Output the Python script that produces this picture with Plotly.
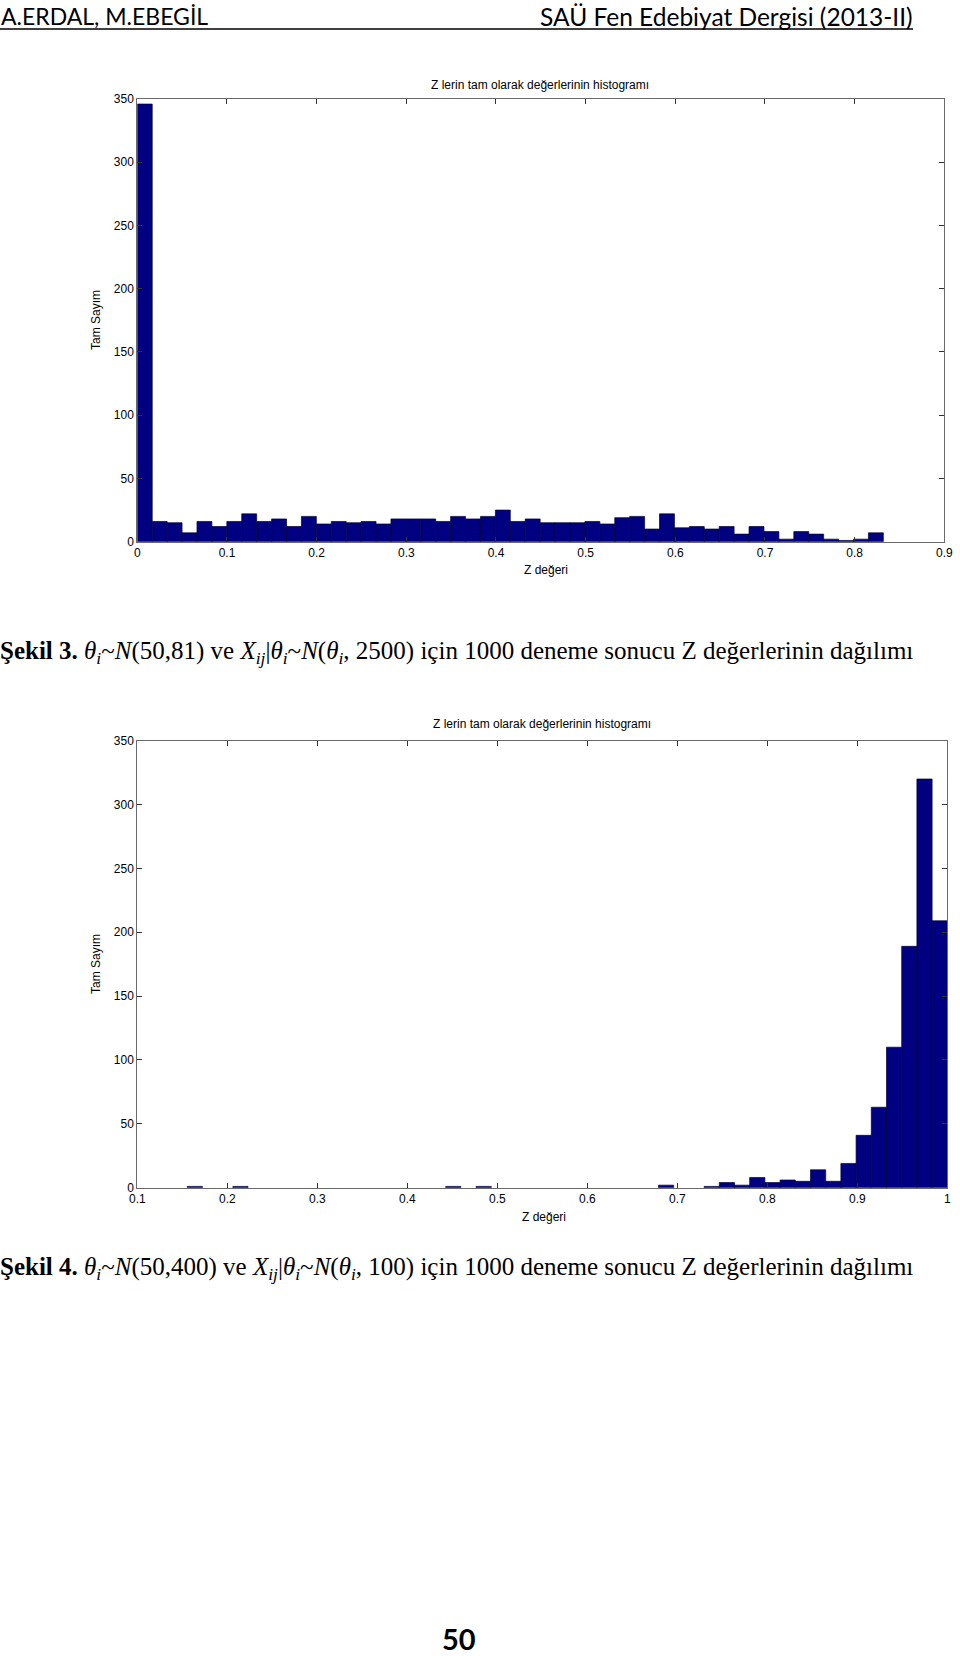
import plotly.graph_objects as go

W, H = 960, 1656

# ---------------- data ----------------
# Şekil 3 histogram (50 bins between min and max Z)
fig3_bin_lo = 0.0
fig3_bin_hi = 0.832
fig3_counts = [346, 16, 15, 7, 16, 12, 16, 22, 16, 18, 12, 20, 14, 16, 15, 16, 14, 18, 18, 18,
               16, 20, 18, 20, 25, 16, 18, 15, 15, 15, 16, 14, 19, 20, 10, 22, 11, 12, 10, 12,
               6, 12, 8, 2, 8, 6, 2, 1, 2, 7]
fig3_xticks = [0, 0.1, 0.2, 0.3, 0.4, 0.5, 0.6, 0.7, 0.8, 0.9]

# Şekil 4 histogram (50 bins between min and max Z)
fig4_bin_lo = 0.1555
fig4_bin_hi = 1.0
fig4_counts = [1, 0, 0, 1, 0, 0, 0, 0, 0, 0,
               0, 0, 0, 0, 0, 0, 0, 1, 0, 1,
               0, 0, 0, 0, 0, 0, 0, 0, 0, 0,
               0, 2, 0, 0, 1, 4, 2, 8, 4, 6,
               5, 14, 5, 19, 41, 63, 110, 189, 320, 209]
fig4_xticks = [0.1, 0.2, 0.3, 0.4, 0.5, 0.6, 0.7, 0.8, 0.9, 1]

yticks = [0, 50, 100, 150, 200, 250, 300, 350]

chart_title = "Z lerin tam olarak değerlerinin histogramı"
x_title = "Z değeri"
y_title = "Tam Sayım"
header_left = "A.ERDAL, M.EBEGİL"
header_right = "SAÜ Fen Edebiyat Dergisi (2013-II)"
caption3 = ("<b>Şekil 3.</b> <i>θ</i><sub><i>i</i></sub>~<i>N</i>(50,81) ve "
            "<i>X</i><sub><i>ij</i></sub>|<i>θ</i><sub><i>i</i></sub>~<i>N</i>(<i>θ</i><sub><i>i</i></sub>, 2500) "
            "için 1000 deneme sonucu Z değerlerinin dağılımı")
caption4 = ("<b>Şekil 4.</b> <i>θ</i><sub><i>i</i></sub>~<i>N</i>(50,400) ve "
            "<i>X</i><sub><i>ij</i></sub>|<i>θ</i><sub><i>i</i></sub>~<i>N</i>(<i>θ</i><sub><i>i</i></sub>, 100) "
            "için 1000 deneme sonucu Z değerlerinin dağılımı")
page_no = "50"


def bins(lo, hi, counts):
    n = len(counts)
    w = (hi - lo) / n
    xs = [lo + (i + 0.5) * w for i in range(n)]
    ys = [c if c else None for c in counts]
    return xs, ys, w


def px(x):
    return x / W


def py(y):
    return 1 - y / H


BAR_COLOR = "#000080"
EDGE = "#00003c"

fig = go.Figure()
x3, y3, w3 = bins(fig3_bin_lo, fig3_bin_hi, fig3_counts)
x4, y4, w4 = bins(fig4_bin_lo, fig4_bin_hi, fig4_counts)
fig.add_trace(go.Bar(x=x3, y=y3, width=w3, xaxis="x", yaxis="y",
                     marker=dict(color=BAR_COLOR, line=dict(color=EDGE, width=0.7)),
                     showlegend=False))
fig.add_trace(go.Bar(x=x4, y=y4, width=w4, xaxis="x2", yaxis="y2",
                     marker=dict(color=BAR_COLOR, line=dict(color=EDGE, width=0.7)),
                     showlegend=False))

tickfont = dict(family="Liberation Sans, Arial, sans-serif", size=12, color="#000")
axis_common = dict(ticks="inside", ticklen=5, tickwidth=1, tickcolor="#333",
                   showline=True, linecolor="#6a6a6a", linewidth=1, mirror="allticks",
                   showgrid=False, zeroline=False, tickfont=tickfont, fixedrange=True,
                   automargin=False)

fig.update_layout(
    template="none",
    width=W, height=H, autosize=False,
    margin=dict(l=0, r=0, t=0, b=0, pad=0, autoexpand=False),
    paper_bgcolor="white", plot_bgcolor="white",
    bargap=0,
    xaxis=dict(domain=[px(137.3), px(944.3)], range=[0, 0.9], tickvals=fig3_xticks,
               anchor="y", **axis_common),
    yaxis=dict(domain=[py(541.7), py(99)], range=[0, 350], tickvals=yticks,
               anchor="x", **axis_common),
    xaxis2=dict(domain=[px(137.3), px(947.3)], range=[0.1, 1.0], tickvals=fig4_xticks,
                anchor="y2", **axis_common),
    yaxis2=dict(domain=[py(1187.7), py(740.7)], range=[0, 350], tickvals=yticks,
                anchor="x2", **axis_common),
)

sans = "Liberation Sans, Arial, sans-serif"
serif = "Liberation Serif, Times New Roman, serif"
head = "Lato, Open Sans, sans-serif"

ann = []
# chart texts
for (tx, ty, xx, xy, yx, yy) in [(540, 85, 546, 570, 96, 320), (542, 724, 544, 1217, 96, 964)]:
    ann.append(dict(text=chart_title, x=px(tx), y=py(ty), xanchor="center", yanchor="middle",
                    font=dict(family=sans, size=12, color="#000")))
    ann.append(dict(text=x_title, x=px(xx), y=py(xy), xanchor="center", yanchor="middle",
                    font=dict(family=sans, size=12, color="#000")))
    ann.append(dict(text=y_title, x=px(yx), y=py(yy), xanchor="center", yanchor="middle",
                    textangle=-90, font=dict(family=sans, size=12, color="#000")))

# header
ann.append(dict(text=header_left, x=px(-1), y=py(16), xanchor="left", yanchor="middle",
                font=dict(family=head, size=23, color="#000")))
ann.append(dict(text=header_right, x=px(915), y=py(16), xanchor="right", yanchor="middle",
                font=dict(family=head, size=24.5, color="#000")))
# captions
ann.append(dict(text=caption3, x=px(-2), y=py(652), xanchor="left", yanchor="middle",
                font=dict(family=serif, size=25, color="#000")))
ann.append(dict(text=caption4, x=px(-2), y=py(1268), xanchor="left", yanchor="middle",
                font=dict(family=serif, size=25, color="#000")))
# page number
ann.append(dict(text="<b>" + page_no + "</b>", x=px(459), y=py(1638), xanchor="center", yanchor="middle",
                font=dict(family=head, size=29, color="#000")))

for a in ann:
    a.update(xref="paper", yref="paper", showarrow=False)
fig.update_layout(annotations=ann)

# header rule
fig.add_shape(type="line", xref="paper", yref="paper", x0=0, x1=px(913), y0=py(29), y1=py(29),
              line=dict(color="#000", width=1.6))

fig.write_html("out.html",
               config={"displayModeBar": False, "staticPlot": True},
               post_script="document.body.style.margin='0';document.body.style.overflow='hidden';")
